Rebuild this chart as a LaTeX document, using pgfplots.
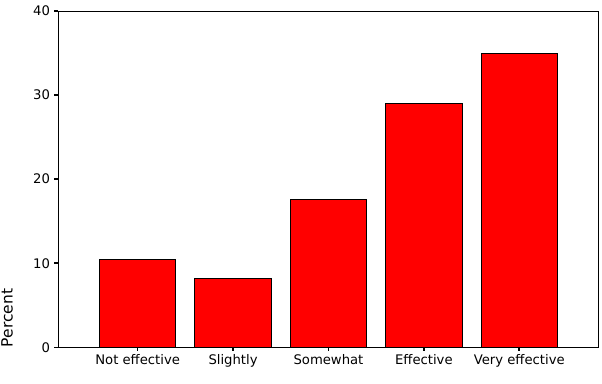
\documentclass[border=0pt]{standalone}
\usepackage{fontspec}
\setmainfont{DejaVu Sans}
\usepackage{pgfplots}
\pgfplotsset{compat=1.18}
\begin{document}
\begin{tikzpicture}
\begin{axis}[
  name=ax,
  scale only axis,
  width=540pt, height=336.3pt,
  xmin=-0.835, xmax=4.825,
  ymin=0, ymax=40,
  ytick={0,10,20,30,40},
  xtick={0,1,2,3,4},
  xticklabels={Not effective,Slightly,Somewhat,Effective,Very effective},
  tick align=outside,
  major tick length=3.5pt,
  tick style={black, line width=1.6pt},
  axis line style={line width=0.9pt},
  xtick pos=bottom, ytick pos=left,
  /pgf/number format/assume math mode=true,
  tick label style={font=\fontsize{13.2}{14}\selectfont},
  yticklabel style={xshift=-1pt},
]
\addplot[ybar, bar width=0.8, fill=red, draw=black, line width=0.9pt] coordinates {(0,10.45) (1,8.2) (2,17.6) (3,29.0) (4,34.9)};
\end{axis}
\node[rotate=90, anchor=south west, inner sep=0pt, font=\fontsize{15.5}{16}\selectfont] at ([xshift=-45pt]ax.south west) {Percent};
\pgfresetboundingbox
\path ([xshift=-58pt,yshift=-35.7pt]ax.south west) rectangle ([xshift=4pt,yshift=11pt]ax.north east);
\end{tikzpicture}
\end{document}
